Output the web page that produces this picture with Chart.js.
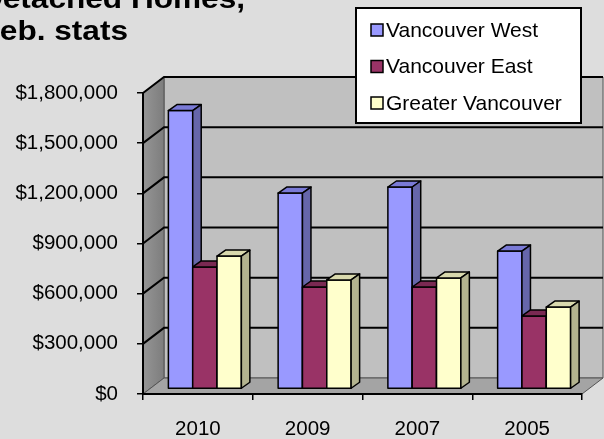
<!DOCTYPE html>
<html>
<head>
<meta charset="utf-8">
<script src="https://cdn.jsdelivr.net/npm/chart.js@4.4.1/dist/chart.umd.min.js"></script>
<style>
  body { margin: 0; background: #dddddd; }
  #wrap { width: 604px; height: 439px; }
</style>
</head>
<body>
<div id="wrap"><canvas id="myChart" width="604" height="439"></canvas></div>
<script>
const years = ["2010", "2009", "2007", "2005"];
const seriesNames = ["Vancouver West", "Vancouver East", "Greater Vancouver"];
const vancouverWest = [1665000, 1172000, 1208000, 825000];
const vancouverEast = [730000, 610000, 610000, 437000];
const greaterVancouver = [795000, 652000, 664000, 490000];
const titleLines = ["Detached Homes,", "Feb. stats"];

// front / top / side colours for each series
const faceColors = [
  { front: "#9999ff", top: "#7a7ad6", side: "#6666aa" },
  { front: "#993366", top: "#7a2952", side: "#6b2447" },
  { front: "#ffffcc", top: "#d9d9ad", side: "#b3b38f" },
];

const wallDX = 21, wallDY = -16;   // depth of the box
const barDX = 7, barDY = -5;       // where the bar fronts sit in the box
const barDepthX = 8.5, barDepthY = -6;

function poly(c, pts, fill, stroke, lw) {
  c.beginPath();
  c.moveTo(pts[0][0], pts[0][1]);
  for (let i = 1; i < pts.length; i++) c.lineTo(pts[i][0], pts[i][1]);
  c.closePath();
  if (fill) { c.fillStyle = fill; c.fill(); }
  if (stroke) { c.strokeStyle = stroke; c.lineWidth = lw || 1; c.stroke(); }
}

const boxPlugin = {
  id: "box3d",
  beforeDraw(chart) {
    const c = chart.ctx;
    const a = chart.chartArea;
    const y = chart.scales.y;
    c.save();
    c.fillStyle = "#dddddd";
    c.fillRect(0, 0, chart.width, chart.height);
    // back wall
    poly(c, [[a.left + wallDX, a.top + wallDY], [a.right + wallDX, a.top + wallDY],
             [a.right + wallDX, a.bottom + wallDY], [a.left + wallDX, a.bottom + wallDY]], "#c0c0c0", "#555555", 1);
    // side wall
    let g = c.createLinearGradient(a.left, 0, a.left + wallDX, 0);
    g.addColorStop(0, "#959595");
    g.addColorStop(1, "#7d7d7d");
    poly(c, [[a.left, a.top], [a.left + wallDX, a.top + wallDY],
             [a.left + wallDX, a.bottom + wallDY], [a.left, a.bottom]], g, "#555555", 1);
    // floor
    poly(c, [[a.left, a.bottom], [a.right, a.bottom],
             [a.right + wallDX, a.bottom + wallDY], [a.left + wallDX, a.bottom + wallDY]], "#a4a4a4", "#555555", 1);
    // grid lines on walls
    c.strokeStyle = "#000000";
    c.lineWidth = 2;
    y.ticks.forEach((t) => {
      if (t.value === 0) return;
      const py = y.getPixelForValue(t.value);
      c.beginPath();
      c.moveTo(a.left, py);
      c.lineTo(a.left + wallDX, py + wallDY);
      c.lineTo(a.right + wallDX, py + wallDY);
      c.stroke();
    });
    c.restore();
  },
  beforeDatasetsDraw(chart) {
    const c = chart.ctx;
    c.save();
    c.lineWidth = 1.5;
    c.strokeStyle = "#000000";
    c.lineJoin = "round";
    for (let i = 0; i < years.length; i++) {
      chart.data.datasets.forEach((ds, d) => {
        const el = chart.getDatasetMeta(d).data[i];
        const col = faceColors[d];
        const l = el.x - el.width / 2 + barDX;
        const r = el.x + el.width / 2 + barDX;
        const t = el.y + barDY;
        const b = el.base + barDY;
        poly(c, [[l, t], [r, t], [r, b], [l, b]], col.front, "#000", 1.5);
        poly(c, [[l, t], [r, t], [r + barDepthX, t + barDepthY], [l + barDepthX, t + barDepthY]], col.top, "#000", 1.5);
        poly(c, [[r, t], [r + barDepthX, t + barDepthY], [r + barDepthX, b + barDepthY], [r, b]], col.side, "#000", 1.5);
      });
    }
    c.restore();
    return false;
  },
  afterDraw(chart) {
    const c = chart.ctx;
    c.save();
    // title, partly cut off at the left and top like the original
    c.fillStyle = "#000000";
    c.font = "bold 27px 'Liberation Sans', Arial, sans-serif";
    c.textAlign = "right";
    c.textBaseline = "alphabetic";
    [[titleLines[0], 245, 8], [titleLines[1], 128, 40]].forEach(([txt, x, yy]) => {
      c.save();
      c.translate(x, yy);
      c.scale(1.17, 1);
      c.fillText(txt, 0, 0);
      c.restore();
    });
    // legend
    c.fillStyle = "#ffffff";
    c.fillRect(356, 8, 225, 115);
    c.strokeStyle = "#000000";
    c.lineWidth = 2;
    c.strokeRect(356, 8, 225, 115);
    c.font = "21px 'Liberation Sans', Arial, sans-serif";
    c.textAlign = "left";
    c.textBaseline = "middle";
    chart.data.datasets.forEach((ds, d) => {
      const cy = 30 + d * 36.5;
      c.fillStyle = ds.backgroundColor;
      c.fillRect(371, cy - 6, 12, 12);
      c.lineWidth = 1.5;
      c.strokeRect(371, cy - 6, 12, 12);
      c.fillStyle = "#000000";
      c.fillText(ds.label, 386, cy + 1);
    });
    c.restore();
  },
};

const allSeries = [vancouverWest, vancouverEast, greaterVancouver];

const config = {
  type: "bar",
  data: {
    labels: years,
    datasets: allSeries.map((vals, d) => ({
      label: seriesNames[d],
      data: vals,
      backgroundColor: faceColors[d].front,
      borderColor: "#000000",
      borderWidth: 1,
      categoryPercentage: 0.665,
      barPercentage: 1.0,
    })),
  },
  options: {
    responsive: false,
    animation: false,
    layout: { padding: { left: 0, right: 22, top: 93, bottom: 0 } },
    plugins: {
      legend: { display: false },
      title: { display: false },
      tooltip: { enabled: false },
    },
    scales: {
      x: {
        grid: { drawOnChartArea: false, drawTicks: true, tickLength: 6, color: "#000000", lineWidth: 1.5, offset: true },
        border: { display: true, color: "#000000", width: 2 },
        ticks: { color: "#000000", padding: 17, font: { family: "'Liberation Sans', Arial", size: 20.5 } },
        afterFit(scale) { scale.height = 45; },
      },
      y: {
        min: 0,
        max: 1800000,
        grid: { drawOnChartArea: false, drawTicks: true, tickLength: 6, color: "#000000", lineWidth: 1.5 },
        border: { display: true, color: "#000000", width: 2 },
        ticks: {
          stepSize: 300000,
          color: "#000000",
          padding: 19,
          font: { family: "'Liberation Sans', Arial", size: 20.5 },
          callback: (v) => "$" + Number(v).toLocaleString("en-US"),
        },
        afterFit(scale) { scale.width = 143; },
      },
    },
  },
  plugins: [boxPlugin],
};

let chart = new Chart(document.getElementById("myChart"), config);
</script>
</body>
</html>
